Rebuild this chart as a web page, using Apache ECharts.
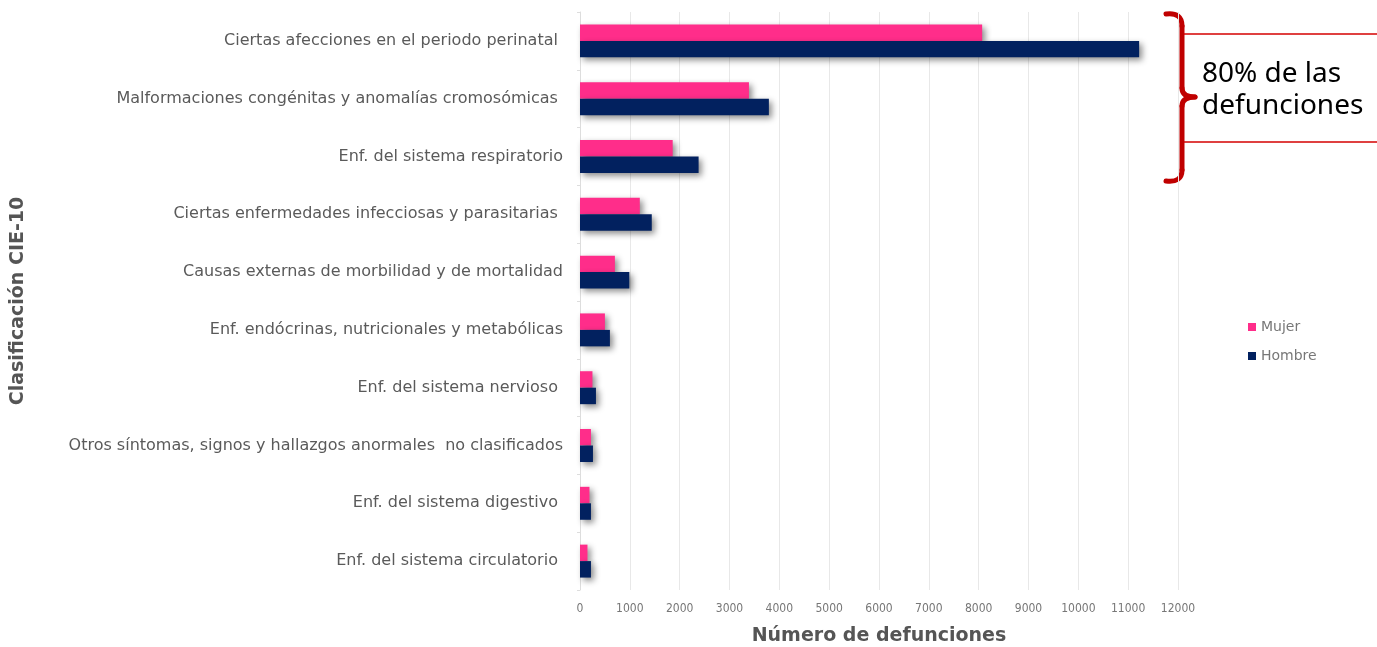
<!DOCTYPE html>
<html><head><meta charset="utf-8">
<script src="https://cdn.jsdelivr.net/npm/echarts@6/dist/echarts.min.js"></script>
<style>html,body{margin:0;padding:0;background:#fff}#c{width:1377px;height:647px}</style>
</head><body><div id="c"></div>
<script>
const categories = [
  "Ciertas afecciones en el periodo perinatal ",
  "Malformaciones congénitas y anomalías cromosómicas ",
  "Enf. del sistema respiratorio",
  "Ciertas enfermedades infecciosas y parasitarias ",
  "Causas externas de morbilidad y de mortalidad",
  "Enf. endócrinas, nutricionales y metabólicas",
  "Enf. del sistema nervioso ",
  "Otros síntomas, signos y hallazgos anormales  no clasificados",
  "Enf. del sistema digestivo ",
  "Enf. del sistema circulatorio "
];
const mujer  = [8070, 3390, 1860, 1200, 700, 500, 250, 220, 190, 150];
const hombre = [11220, 3790, 2380, 1440, 990, 600, 320, 260, 220, 220];
const xTicks = [0, 12000, 1000];

const chart = echarts.init(document.getElementById('c'));
const shadow = {shadowColor:'rgba(0,0,0,0.45)', shadowBlur:6, shadowOffsetX:3, shadowOffsetY:3};
const red = {stroke:'#c00000', lineWidth:5, fill:null, lineCap:'round'};
chart.setOption({
  animation:false,
  grid:{left:580, top:12, width:598, height:578, containLabel:false, outerBoundsMode:'none'},
  legend:{orient:'vertical', left:1243, top:315, itemWidth:8, itemHeight:8, itemGap:15,
    icon:'rect', textStyle:{color:'#777', fontSize:14, fontFamily:'DejaVu Sans'},
    data:['Mujer','Hombre']},
  xAxis:{type:'value', min:xTicks[0], max:xTicks[1], interval:xTicks[2],
    name:'Número de defunciones', nameLocation:'middle', nameGap:37,
    nameTextStyle:{color:'#555', fontSize:19, fontWeight:'bold', fontFamily:'DejaVu Sans'},
    axisLine:{show:false}, axisTick:{show:false},
    axisLabel:{color:'#777', fontSize:12, fontFamily:'DejaVu Sans Condensed', margin:13,
      formatter:function(v){return String(v);}},
    splitLine:{lineStyle:{color:'#e8e8e8'}}},
  yAxis:{type:'category', inverse:true, data:categories,
    name:'Clasificación CIE-10', nameLocation:'middle', nameGap:552, nameRotate:90,
    nameTextStyle:{color:'#555', fontSize:19, fontWeight:'bold', fontFamily:'DejaVu Sans'},
    axisLine:{show:true, lineStyle:{color:'#ddd'}}, axisTick:{show:true, length:3, lineStyle:{color:'#ddd'}},
    axisLabel:{color:'#5a5a5a', fontSize:16, fontFamily:'DejaVu Sans', margin:17,
      padding:[10,0,0,0]}},
  series:[
    {name:'Mujer', type:'bar', data:mujer, barGap:'0%', barCategoryGap:'43%',
      itemStyle:Object.assign({color:'#ff2d8a'}, shadow)},
    {name:'Hombre', type:'bar', data:hombre, barGap:'0%', barCategoryGap:'43%',
      itemStyle:Object.assign({color:'#02215f'}, shadow)}
  ],
  graphic:[
    {type:'bezierCurve', shape:{x1:1166, y1:14, cpx1:1182, cpy1:12, x2:1182, y2:26}, style:red},
    {type:'line', shape:{x1:1182, y1:26, x2:1182, y2:88}, style:red},
    {type:'bezierCurve', shape:{x1:1182, y1:88, cpx1:1182, cpy1:97, x2:1195, y2:97}, style:red},
    {type:'bezierCurve', shape:{x1:1195, y1:97, cpx1:1182, cpy1:97, x2:1182, y2:106}, style:red},
    {type:'line', shape:{x1:1182, y1:106, x2:1182, y2:170}, style:red},
    {type:'bezierCurve', shape:{x1:1182, y1:170, cpx1:1182, cpy1:183, x2:1166, y2:181}, style:red},
    {type:'line', shape:{x1:1184, y1:34, x2:1377, y2:34}, style:{stroke:'#d40000', lineWidth:1.5}},
    {type:'line', shape:{x1:1184, y1:142, x2:1377, y2:142}, style:{stroke:'#d40000', lineWidth:1.5}},
    {type:'text', left:1202, top:58, style:{text:'80% de las\ndefunciones', fill:'#000', fontSize:28, lineHeight:32, fontFamily:'Noto Sans'}}
  ]
});
</script></body></html>
